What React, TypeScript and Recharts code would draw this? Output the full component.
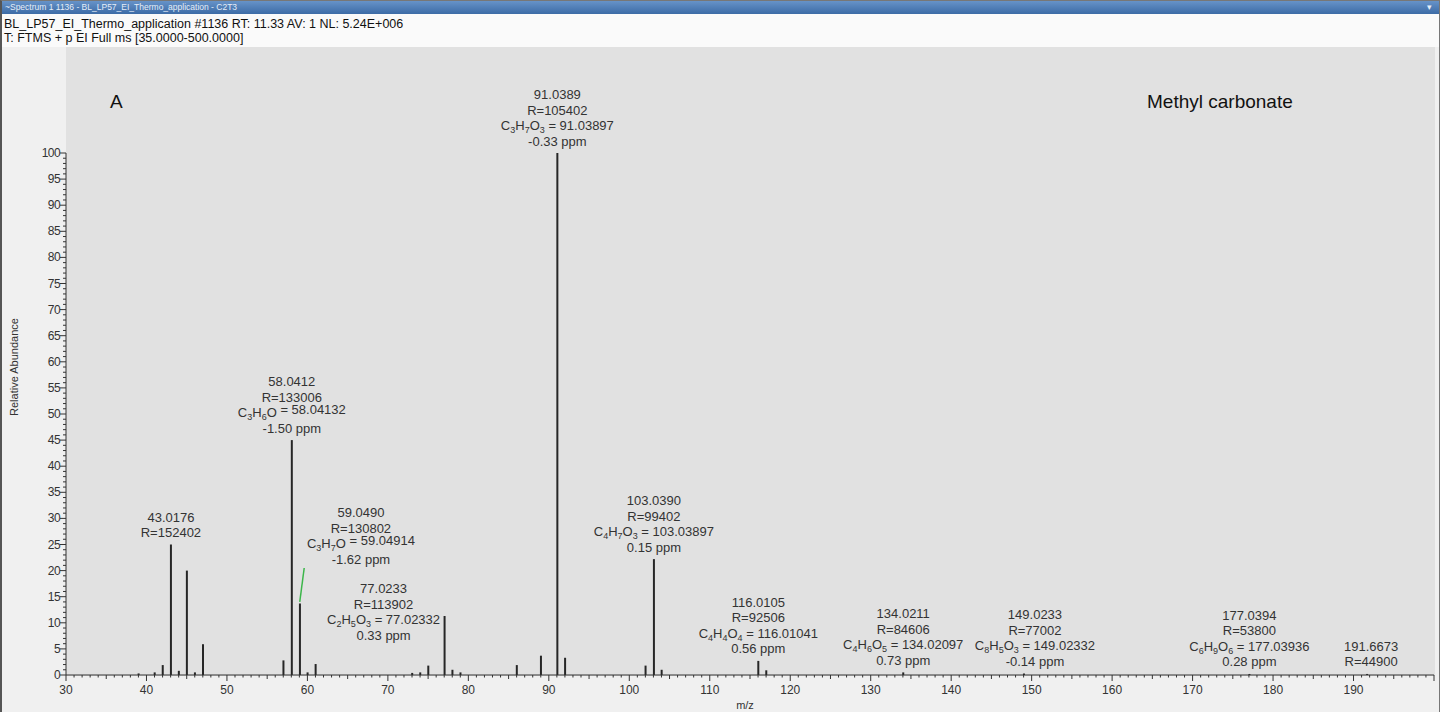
import React from "react";
import { ComposedChart, Bar, XAxis, YAxis, LabelList, ReferenceLine } from "recharts";

// peak list (m/z, relative abundance %)
const massToCharge = [
  39, 41, 42, 43.0176, 44, 45, 46, 47, 57, 58.0412, 59.049, 60, 61, 73, 74, 75, 77.0233, 78, 79,
  86, 89, 91.0389, 92, 102, 103.039, 104, 116.0105, 117, 134.0211, 149.0233, 177.0394, 191.6673,
];
const relAbundance = [
  0.3, 0.5, 1.9, 25, 0.8, 20, 0.5, 5.9, 2.8, 45, 13.7, 0.5, 2.1, 0.4, 0.5, 1.8, 11.3, 1, 0.5,
  1.9, 3.7, 100, 3.3, 1.8, 22.2, 1, 2.7, 0.9, 0.5, 0.3, 0.2, 0.2,
];

// annotated peaks
const labeledMz = [43.0176, 58.0412, 59.049, 77.0233, 91.0389, 103.039, 116.0105, 134.0211, 149.0233, 177.0394, 191.6673];
const resolution = [152402, 133006, 130802, 113902, 105402, 99402, 92506, 84606, 77002, 53800, 44900];
const formula = ["", "C3H6O", "C3H7O", "C2H5O3", "C3H7O3", "C4H7O3", "C4H4O4", "C4H6O5", "C8H5O3", "C6H9O6", ""];
const theoMass = [null, 58.04132, 59.04914, 77.02332, 91.03897, 103.03897, 116.01041, 134.02097, 149.02332, 177.03936, null];
const ppmError = [null, -1.5, -1.62, 0.33, -0.33, 0.15, 0.56, 0.73, -0.14, 0.28, null];

const majorX = [30, 40, 50, 60, 70, 80, 90, 100, 110, 120, 130, 140, 150, 160, 170, 180, 190];
const xTicks = Array.from({ length: 171 }, (_, i) => 30 + i);
const yTicks = Array.from({ length: 101 }, (_, i) => i);

const data = massToCharge.map((mz, i) => ({ mz, ab: relAbundance[i] }));

// labels that were moved off their peak in the original
const labelShift: Record<string, [number, number]> = {
  "59.049": [61, -32],
  "77.0233": [-61, 31],
  "149.0233": [11, 0],
  "191.6673": [4, 0],
};

const FONT = "'Liberation Sans', Arial, sans-serif";
const INK = "#333";

function formulaSpans(f: string) {
  const parts = f.match(/[A-Z][a-z]?|\d+/g) || [];
  let down = false;
  return parts.map((p, k) => {
    if (/\d/.test(p)) {
      down = true;
      return (
        <tspan key={k} fontSize={9} dy={3}>
          {p}
        </tspan>
      );
    }
    const dy = down ? -3 : 0;
    down = false;
    return (
      <tspan key={k} dy={dy}>
        {p}
      </tspan>
    );
  });
}

const PeakLabel = (props: any) => {
  const { x, y, width, value } = props;
  const i = labeledMz.indexOf(value);
  if (i < 0) return null;
  const shift = labelShift[String(value)] || [0, 0];
  const lines: any[] = [value.toFixed(4), "R=" + resolution[i]];
  if (formula[i]) {
    lines.push(
      <>
        {formulaSpans(formula[i])}
        <tspan dy={-3}>{" = " + (theoMass[i] as number).toFixed(5)}</tspan>
      </>
    );
    lines.push((ppmError[i] as number).toFixed(2) + " ppm");
  }
  const cx = Number(x) + Number(width) / 2 + shift[0];
  const last = Number(y) - 12 + shift[1];
  const n = lines.length;
  return (
    <g>
      {lines.map((l, k) => (
        <text
          key={k}
          x={cx}
          y={last - (n - 1 - k) * 15.5 + 4.5}
          textAnchor="middle"
          fontSize={13}
          fontFamily={FONT}
          fill={INK}
        >
          {l}
        </text>
      ))}
    </g>
  );
};

const XTick = (props: any) => {
  const { x, y, payload } = props;
  const v = payload.value;
  const major = majorX.includes(v);
  const len = v % 10 === 0 ? 6 : v % 5 === 0 ? 4 : 2.5;
  return (
    <g>
      <line x1={x} x2={x} y1={y} y2={y + len} stroke={INK} strokeWidth={1} />
      {major && (
        <text x={x} y={y + 19} textAnchor="middle" fontSize={12} fontFamily={FONT} fill={INK}>
          {v}
        </text>
      )}
    </g>
  );
};

const YTick = (props: any) => {
  const { x, y, payload } = props;
  const v = payload.value;
  const major = v % 5 === 0;
  const len = major ? 6 : 3;
  return (
    <g>
      <line x1={x - len} x2={x} y1={y} y2={y} stroke={INK} strokeWidth={1} />
      {major && (
        <text x={x - 6} y={y + 4} textAnchor="end" fontSize={12} fontFamily={FONT} fill={INK} letterSpacing={-0.6}>
          {v}
        </text>
      )}
    </g>
  );
};

export default function App() {
  return (
    <div
      style={{
        position: "absolute",
        left: 0,
        top: 0,
        width: 1440,
        height: 712,
        overflow: "hidden",
        background: "#f0f0f0",
        fontFamily: FONT,
      }}
    >
      <div
        style={{
          position: "absolute",
          left: 0,
          top: 0,
          width: 1440,
          height: 14,
          background: "linear-gradient(#6a96cb, #3c6ba6)",
          color: "#e6eef8",
          fontSize: 8.5,
          lineHeight: "14px",
          paddingLeft: 5,
          boxSizing: "border-box",
        }}
      >
        ~Spectrum 1 1136 - BL_LP57_EI_Thermo_application - C2T3
        <span style={{ position: "absolute", right: 8, top: 0 }}>▾</span>
      </div>
      <div
        style={{
          position: "absolute",
          left: 0,
          top: 14,
          width: 1440,
          height: 33,
          background: "#fafafa",
          color: "#111",
          fontSize: 12.5,
          lineHeight: "14px",
          paddingLeft: 4,
          paddingTop: 3,
          boxSizing: "border-box",
        }}
      >
        <div>BL_LP57_EI_Thermo_application #1136 RT: 11.33 AV: 1 NL: 5.24E+006</div>
        <div>T: FTMS + p EI Full ms [35.0000-500.0000]</div>
      </div>
      <div style={{ position: "absolute", left: 66, top: 47, width: 1369, height: 629, background: "#e1e1e1" }} />
      <div style={{ position: "absolute", left: 110, top: 91, fontSize: 19, color: "#111" }}>A</div>
      <div style={{ position: "absolute", left: 1147, top: 91, fontSize: 19, color: "#111" }}>Methyl carbonate</div>

      <ComposedChart
        width={1440}
        height={712}
        data={data}
        margin={{ top: 153, right: 6, bottom: 7, left: 6 }}
        style={{ position: "absolute", left: 0, top: 0 }}
      >
        <XAxis
          dataKey="mz"
          type="number"
          domain={[30, 200]}
          allowDataOverflow
          ticks={xTicks}
          interval={0}
          tickLine={false}
          tickSize={0}
          tickMargin={0}
          height={30}
          axisLine={{ stroke: INK }}
          tick={<XTick />}
          label={(p: any) => {
            const vb = p.viewBox;
            return (
              <text x={vb.x + vb.width / 2 - 5} y={vb.y + 34} textAnchor="middle" fontSize={11} fontFamily={FONT} fill={INK}>
                m/z
              </text>
            );
          }}
        />
        <YAxis
          type="number"
          domain={[0, 100]}
          ticks={yTicks}
          interval={0}
          width={60}
          tickLine={false}
          tickSize={0}
          tickMargin={0}
          axisLine={{ stroke: INK }}
          tick={<YTick />}
          label={(p: any) => {
            const vb = p.viewBox;
            const cx = vb.x + 12;
            const cy = vb.y + vb.height * 0.41;
            return (
              <text
                x={cx}
                y={cy}
                transform={`rotate(-90 ${cx} ${cy})`}
                textAnchor="middle"
                fontSize={11}
                fontFamily={FONT}
                fill={INK}
              >
                Relative Abundance
              </text>
            );
          }}
        />
        <ReferenceLine
          segment={[
            { x: 59.05, y: 14 },
            { x: 59.6, y: 20.5 },
          ]}
          stroke="#3cb64a"
          strokeWidth={1.5}
        />
        <Bar dataKey="ab" fill="#262626" barSize={2} isAnimationActive={false}>
          <LabelList dataKey="mz" content={<PeakLabel />} />
        </Bar>
      </ComposedChart>
      <div
        style={{
          position: "absolute",
          left: 0,
          top: 0,
          width: 1440,
          height: 712,
          boxSizing: "border-box",
          borderLeft: "2px solid #555",
          borderRight: "1px solid #777",
          borderTop: "1px solid #777",
          pointerEvents: "none",
        }}
      />
    </div>
  );
}
